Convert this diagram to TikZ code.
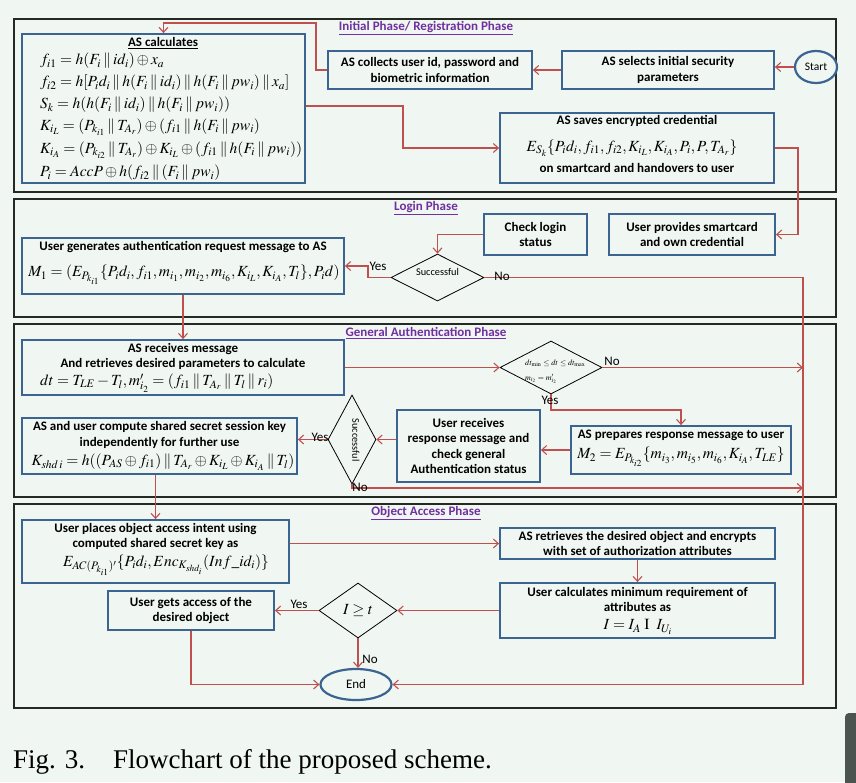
\documentclass[tikz,border=0pt]{standalone}
\usepackage{mathptmx}
\usepackage[no-math]{fontspec}
\setmainfont{Carlito}
\newfontfamily\captionserif{Liberation Serif}
\usepackage{tikz}
\usetikzlibrary{arrows.meta}
\usetikzlibrary{shapes.geometric}

\definecolor{bgcol}{RGB}{240,246,241}
\definecolor{boxblue}{RGB}{60,100,145}
\definecolor{flowred}{RGB}{192,80,77}
\definecolor{phasepurple}{RGB}{112,48,160}
\definecolor{framedark}{RGB}{38,40,34}
\definecolor{scrollgray}{RGB}{76,84,79}

\newcommand{\bxfont}{\fontsize{13}{15.5}\selectfont\bfseries}
\newcommand{\eqfont}{\fontsize{15.5}{17}\selectfont}
\newcommand{\lblfont}{\fontsize{13}{15}\selectfont}
\newcommand{\concat}{\mathbin{\|}}

\begin{document}
\begin{tikzpicture}[x=1pt, y=-1pt,
	>={Straight Barb[length=5pt, width=9pt]},
	box/.style={rectangle, draw=boxblue, line width=1.8pt, fill=bgcol, align=center, inner sep=0pt, font=\bxfont},
	boxtext/.style={inner sep=0pt, align=center, font=\bxfont},
	eqn/.style={inner sep=0pt, font=\eqfont},
	decision/.style={diamond, draw=black, line width=0.8pt, fill=bgcol, inner sep=0pt},
	terminal/.style={ellipse, draw=boxblue, line width=2.2pt, fill=bgcol, inner sep=0pt},
	phase/.style={draw=framedark, line width=2.2pt},
	phasetitle/.style={text=phasepurple, font=\bxfont, inner sep=0pt},
	flow/.style={draw=flowred, line width=1.1pt, ->},
	answer/.style={inner sep=0pt, font=\lblfont}]

	\useasboundingbox (0,0) rectangle (856,782);
	\fill[bgcol] (0,0) rectangle (856,782);
	\fill[scrollgray, rounded corners=4pt] (845,713) rectangle (870,800);

	% phase frames
	\draw[phase] (14,19) rectangle (836,192);
	\draw[phase] (14,199) rectangle (836,317);
	\draw[phase] (14,324) rectangle (836,497);
	\draw[phase] (14,504) rectangle (836,708);
	\node[phasetitle] (regtitle) at (426,28) {\underline{Initial Phase/ Registration Phase}};
	\node[phasetitle] (logintitle) at (426,208) {\underline{Login Phase}};
	\node[phasetitle] (authtitle) at (426,333) {\underline{General Authentication Phase}};
	\node[phasetitle] (objtitle) at (426,513) {\underline{Object Access Phase}};

	% initial phase
	\node[terminal, minimum width=42pt, minimum height=32pt] (start) at (816,67) {\fontsize{11.5}{13}\selectfont Start};
	\node[box, minimum width=212pt, minimum height=38pt] (selects) at (668,70) {AS selects initial security\\parameters};
	\node[box, minimum width=204pt, minimum height=38pt] (collects) at (430,70) {AS collects user id, password and\\biometric information};
	\node[box, minimum width=283pt, minimum height=149pt] (calc) at (163.5,108.5) {};
	\node[boxtext] (calctitle) at (163,43) {\underline{AS calculates}};
	\node[eqn, anchor=west] (calcA) at (40,61) {$f_{i1} = h(F_i \concat id_i) \oplus x_a$};
	\node[eqn, anchor=west] (calcB) at (40,83) {$f_{i2} = h[P_i d_i \concat h(F_i \concat id_i) \concat h(F_i \concat pw_i) \concat x_a]$};
	\node[eqn, anchor=west] (calcC) at (40,105) {$S_k = h(h(F_i \concat id_i) \concat h(F_i \concat pw_i))$};
	\node[eqn, anchor=west] (calcD) at (40,127) {$K_{i_L} = (P_{k_{i1}} \concat T_{A_r}) \oplus (f_{i1} \concat h(F_i \concat pw_i)$};
	\node[eqn, anchor=west] (calcE) at (40,150) {$K_{i_A} = (P_{k_{i2}} \concat T_{A_r}) \oplus K_{i_L} \oplus (f_{i1} \concat h(F_i \concat pw_i))$};
	\node[eqn, anchor=west] (calcF) at (40,173) {$P_i = AccP \oplus h(f_{i2} \concat (F_i \concat pw_i)$};
	\node[box, minimum width=274pt, minimum height=70pt] (saves) at (637,148) {};
	\node[boxtext] (savestitle) at (637,121) {AS saves encrypted credential};
	\node[eqn] (saveseq) at (632,148) {$E_{S_k}\{P_i d_i, f_{i1}, f_{i2}, K_{i_L}, K_{i_A}, P_i, P, T_{A_r}\}$};
	\node[boxtext] (savesnote) at (637,168) {on smartcard and handovers to user};

	% login phase
	\node[box, minimum width=103pt, minimum height=41pt] (checklogin) at (535.5,234.5) {Check login\\status};
	\node[box, minimum width=166pt, minimum height=41pt] (provides) at (692,234.5) {User provides smartcard\\and own credential};
	\node[decision, minimum width=93pt, minimum height=47pt] (loginok) at (437.5,277.5) {};
	\node[inner sep=0pt, font=\fontsize{10.3}{12}\selectfont] (loginoktext) at (437.5,272) {Successful};
	\node[box, minimum width=322pt, minimum height=56pt] (request) at (183,266) {};
	\node[boxtext] (requesttitle) at (183,247) {User generates authentication request message to AS};
	\node[eqn] (requesteq) at (184,275) {$M_1 = (E_{P_{k_{i1}}}\{P_i d_i, f_{i1}, m_{i_1}, m_{i_2}, m_{i_6}, K_{i_L}, K_{i_A}, T_l\}, P_i d)$};

	% general authentication phase
	\node[box, minimum width=322pt, minimum height=55pt] (receives) at (183,367.5) {};
	\node[boxtext] (receivestitle) at (183,356.5) {AS receives message\\And retrieves desired parameters to calculate};
	\node[eqn, anchor=west] (receiveseq) at (40,383) {$dt = T_{LE} - T_l, m'_{i_2} = (f_{i1} \concat T_{A_r} \concat T_l \concat r_i)$};
	\node[decision, minimum width=102pt, minimum height=53pt] (timecheck) at (551,367.5) {};
	\node[inner sep=0pt, anchor=west, font=\fontsize{8}{9}\selectfont] (timecheckA) at (525,363) {$dt_{\min} \le dt \le dt_{\max}$};
	\node[inner sep=0pt, anchor=west, font=\fontsize{8}{9}\selectfont] (timecheckB) at (525,379) {$m_{i_2} = m'_{i_2}$};
	\node[box, minimum width=220pt, minimum height=48pt] (response) at (681,450) {};
	\node[boxtext] (responsetitle) at (681,435) {AS prepares response message to user};
	\node[eqn] (responseeq) at (681,457) {$M_2 = E_{P_{k_{i2}}}\{m_{i_3}, m_{i_5}, m_{i_6}, K_{i_A}, T_{LE}\}$};
	\node[box, minimum width=143pt, minimum height=72pt] (userchecks) at (468.5,446) {User receives\\response message and\\check general\\Authentication status};
	\node[decision, minimum width=48pt, minimum height=89pt] (authok) at (352,439.5) {};
	\node[inner sep=0pt, font=\fontsize{10.3}{12}\selectfont] (authoktext) at (356,440) {\rotatebox{-90}{Successful}};
	\node[box, minimum width=275pt, minimum height=56pt] (session) at (159.5,446) {};
	\node[boxtext] (sessiontitle) at (159.5,435) {AS and user compute shared secret session key\\independently for further use};
	\node[eqn] (sessioneq) at (163,462) {$K_{shd\,i} = h((P_{AS} \oplus f_{i1}) \concat T_{A_r} \oplus K_{i_L} \oplus K_{i_A} \concat T_l)$};

	% object access phase
	\node[box, minimum width=267pt, minimum height=63pt] (intent) at (155.5,551.5) {};
	\node[boxtext] (intenttitle) at (155.5,536.5) {User places object access intent using\\computed shared secret key as};
	\node[eqn] (intenteq) at (166,565) {$E_{AC(P_{k_{i1}})'}\{P_i d_i, Enc_{K_{shd_i}}(Inf\_id_i)\}$};
	\node[box, minimum width=275pt, minimum height=31pt] (retrieves) at (637.5,543.5) {AS retrieves the desired object and encrypts\\with set of authorization attributes};
	\node[box, minimum width=275pt, minimum height=55pt] (minreq) at (637.5,610.5) {};
	\node[boxtext] (minreqtitle) at (637.5,599.5) {User calculates minimum requirement of\\attributes as};
	\node[eqn] (minreqeq) at (638,627) {$I = I_A\ \mathrm{I}\ \ I_{U_i}$};
	\node[decision, minimum width=78pt, minimum height=55pt] (access) at (358,610.5) {};
	\node[eqn] (accesstext) at (358,610.5) {$I \ge t$};
	\node[box, minimum width=166pt, minimum height=39pt] (granted) at (191,610.5) {User gets access of the\\desired object};
	\node[terminal, minimum width=71pt, minimum height=31pt] (finish) at (356,684.5) {\lblfont End};

	% corner points of the connectors
	\coordinate (regtop) at (316,23);
	\coordinate (calcout) at (403,106);
	\coordinate (cardline) at (798,148);
	\coordinate (yesbend) at (368,266);
	\coordinate (nobus) at (803,684.5);
	\coordinate (yesdrop) at (681,410);
	\coordinate (nodrop) at (352,488);

	% connectors
	\draw[flow] (start.west) -- (start.west -| selects.east);
	\draw[flow] (selects.west) -- (collects.east);
	\draw[flow] (collects.west) -| (regtop) -| (calc.north);
	\draw[flow] (calcout -| calc.east) -- (calcout) |- (saves.west);
	\draw[flow] (saves.east) -- (cardline) |- (provides.east);
	\draw[flow] (checklogin.west) -| (loginok.north);
	\draw[flow] (loginok.west) -| (yesbend) -- (request.east);
	\draw[flow] (loginok.east) -| (nobus) -- (finish.east);
	\draw[flow] (request.south) -- (receives.north);
	\draw[flow] (receives.east) -- (timecheck.west);
	\draw[flow] (timecheck.east) -- (timecheck.east -| nobus);
	\draw[flow] (timecheck.south) |- (yesdrop) -- (response.north);
	\draw[flow] (response.west) -- (response.west -| userchecks.east);
	\draw[flow] (authok.east -| userchecks.west) -- (authok.east);
	\draw[flow] (authok.west) -- (authok.west -| session.east);
	\draw[flow] (authok.south) -- (nodrop) -- (nodrop -| nobus);
	\draw[flow] (intent.north |- session.south) -- (intent.north);
	\draw[flow] (intent.east |- retrieves.west) -- (retrieves.west);
	\draw[flow] (retrieves.south) -- (minreq.north);
	\draw[flow] (minreq.west) -- (access.east);
	\draw[flow] (access.west) -- (granted.east);
	\draw[flow] (access.south) -- (access.south |- finish.north);
	\draw[flow] (granted.south) |- (finish.west);

	% answers on the decisions
	\node[answer] (loginyes) at (378,266) {Yes};
	\node[answer] (loginno) at (502,276) {No};
	\node[answer] (timeno) at (612,361) {No};
	\node[answer] (timeyes) at (550,400) {Yes};
	\node[answer] (authyes) at (320,437) {Yes};
	\node[answer] (authno) at (360,487) {No};
	\node[answer] (accessyes) at (299,604) {Yes};
	\node[answer] (accessno) at (370,659) {No};

	\node[anchor=base west, inner sep=0pt, font=\captionserif\fontsize{27}{30}\selectfont] (caption) at (13,768) {Fig. 3.\hspace{28pt}Flowchart of the proposed scheme.};
\end{tikzpicture}
\end{document}
